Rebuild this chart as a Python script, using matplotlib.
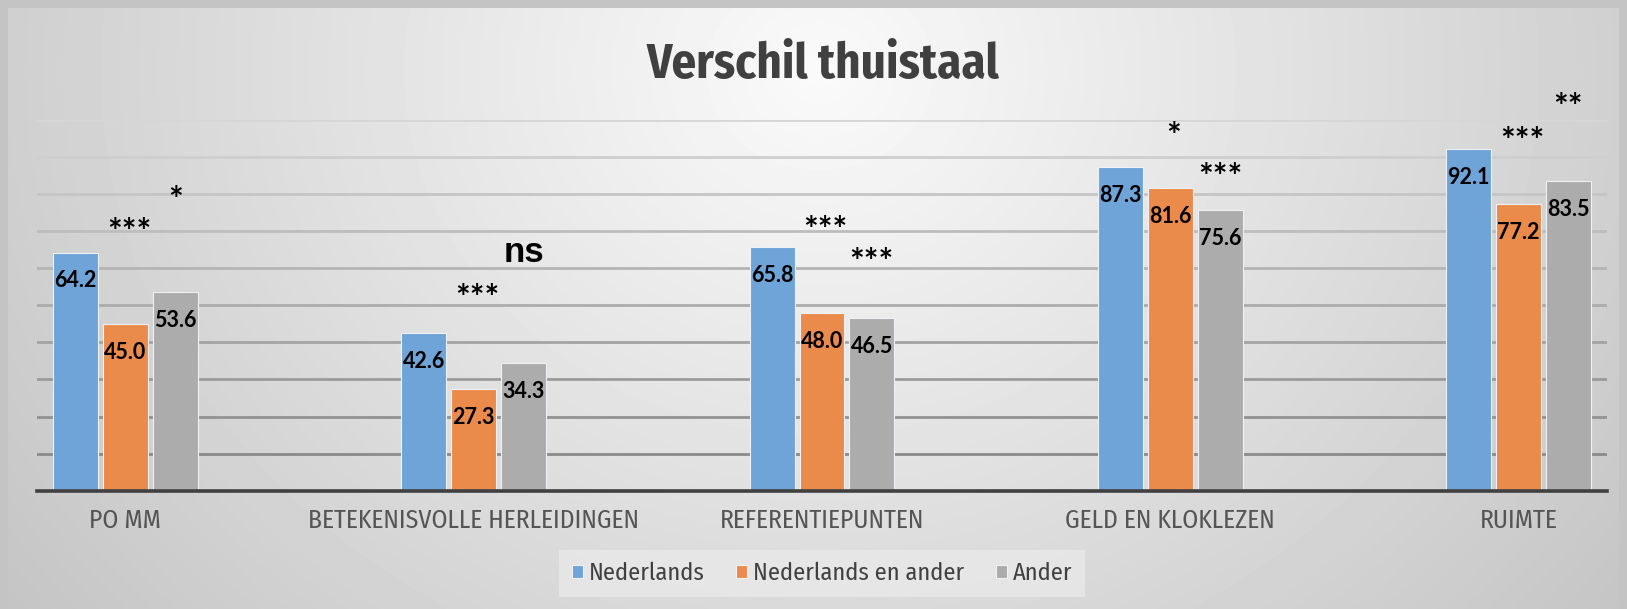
import numpy as np
import matplotlib
matplotlib.use("Agg")
import matplotlib.pyplot as plt
from matplotlib.colors import LinearSegmentedColormap

# Gegevens: gemiddelde scores per onderdeel, volgens thuistaal
categories = ["PO MM", "BETEKENISVOLLE HERLEIDINGEN", "REFERENTIEPUNTEN",
              "GELD EN KLOKLEZEN", "RUIMTE"]
series_names = ["Nederlands", "Nederlands en ander", "Ander"]
nederlands = [64.2, 42.6, 65.8, 87.3, 92.1]
nederlands_en_ander = [45.0, 27.3, 48.0, 81.6, 77.2]
ander = [53.6, 34.3, 46.5, 75.6, 83.5]

# Significantie (boven de oranje en boven de grijze balk)
sig_nl_en_ander = ["***", "***", "***", "*", "***"]
sig_ander = ["*", "ns", "***", "***", "**"]

# Hoogte van de sterretjes in de grafiek (handmatig geplaatst, zoals in Excel)
sig_y_oranje = [71.9, 54.3, 72.5, 97.8, 96.5]
sig_y_grijs = [80.6, 64.3, 63.8, 86.9, 105.6]

kleuren = ["#6fa4d8", "#ea8b4b", "#acacac"]
smal = ["Fira Sans Condensed", "DejaVu Sans"]
W, H = 1627, 609

fig = plt.figure(figsize=(W / 100, H / 100), dpi=100)
fig.patch.set_facecolor("#c4c4c4")

# Achtergrond met radiale verloop (wit in het midden boven, grijs aan de randen)
bg = fig.add_axes([8 / W, 0, (W - 16) / W, (H - 8) / H], zorder=-10)
xs = np.linspace(8, W - 8, 400)
ys = np.linspace(8, H, 200)
X, Y = np.meshgrid(xs, ys)
d = np.sqrt(((X - 820) / 800) ** 2 + ((Y - 70) / 700) ** 2)
v = np.clip(250 - 42 * d, 190, 250) / 255
bg.imshow(v, cmap="gray", vmin=0, vmax=1, aspect="auto", interpolation="bilinear")
bg.axis("off")

ax = fig.add_axes([37.3 / W, 1 - 490.7 / H, (1606.7 - 37.3) / W, (490.7 - 119.7) / H])
ax.patch.set_alpha(0)

x = np.arange(len(categories))
stap = 0.143
breedte = 0.129
reeksen = [nederlands, nederlands_en_ander, ander]
handles = []
for i, (waarden, kleur) in enumerate(zip(reeksen, kleuren)):
    pos = x + (i - 1) * stap
    b = ax.bar(pos, waarden, breedte, color=kleur, edgecolor="#eef2f6",
               linewidth=0.8, zorder=3)
    handles.append(b)
    for xp, w in zip(pos, waarden):
        ax.annotate(f"{w:.1f}", xy=(xp, w), xytext=(0, -20.5),
                    textcoords="offset points", ha="center", va="center",
                    fontsize=15.5, fontweight="bold", family=["Lato", "DejaVu Sans"],
                    color="black", zorder=5)

# significantie-tekens
for i in range(len(categories)):
    for txt, y, dx in [(sig_nl_en_ander[i], sig_y_oranje[i], 0.01),
                       (sig_ander[i], sig_y_grijs[i], stap)]:
        if txt == "ns":
            ax.text(x[i] + dx, y, txt, ha="center", va="center", fontsize=25,
                    fontweight="bold", family=["Liberation Sans", "DejaVu Sans"],
                    clip_on=False, zorder=5)
        else:
            ax.text(x[i] + dx, y - 2.5, txt, ha="center", va="center", fontsize=25,
                    fontweight="bold", family=["Lato", "DejaVu Sans"],
                    clip_on=False, zorder=5)

ax.set_xlim(-0.253, 4.253)
ax.set_ylim(0, 100)
yticks = np.arange(10, 101, 10)
ax.set_yticks(yticks)
ax.tick_params(axis="y", left=False, labelleft=False)
ax.yaxis.grid(True, linewidth=2.0)
ax.set_axisbelow(True)
grid_cmap = LinearSegmentedColormap.from_list("g", ["#8a8a8a", "#d6d6d6"])
for val, gl in zip(yticks, ax.get_ygridlines()):
    gl.set_color(grid_cmap((val - 10) / 90))

for s in ["top", "left", "right"]:
    ax.spines[s].set_visible(False)
ax.spines["bottom"].set_color("#404040")
ax.spines["bottom"].set_linewidth(2.6)
ax.spines["bottom"].set_zorder(4)

ax.set_xticks(x)
ax.set_xticklabels(categories, fontsize=18.5, color="#555555", family=smal)
ax.tick_params(axis="x", length=0, pad=12.5)

fig.text(823 / W, 1 - 77.8 / H, "Verschil thuistaal", ha="center", va="baseline",
         fontsize=35, fontweight="bold", color="#404040", family=smal)

leg = fig.legend(handles, series_names, loc="center",
                 bbox_to_anchor=(822 / W, 1 - 573.5 / H), ncol=3, frameon=True,
                 prop={"family": smal, "size": 17.5},
                 labelcolor="#404040",
                 handlelength=0.45, handleheight=0.45, handletextpad=0.25,
                 columnspacing=1.3, borderpad=0.5, fancybox=False)
leg.get_frame().set_facecolor("#e9e9e9")
leg.get_frame().set_edgecolor("none")

fig.savefig("out.png", dpi=100, facecolor=fig.get_facecolor())
